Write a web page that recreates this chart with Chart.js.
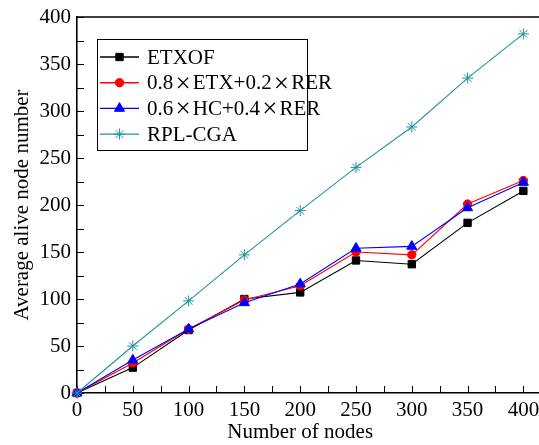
<!DOCTYPE html>
<html>
<head>
<meta charset="utf-8">
<script src="https://cdn.jsdelivr.net/npm/chart.js@4/dist/chart.umd.min.js"></script>
<style>
  html, body { margin: 0; padding: 0; background: #fff; overflow: hidden; }
  canvas { display: block; }
</style>
</head>
<body>
<canvas id="chart" width="539" height="445"></canvas>
<script>
// Number of nodes in the network (x axis)
const nodeCounts = [0, 50, 100, 150, 200, 250, 300, 350, 400];

// Average number of alive nodes for each routing metric
const etxof  = [0, 27, 67, 100, 107, 141, 137, 181, 215];
const etxRer = [0, 32, 68, 99, 114, 150, 147, 201, 226];
const hcRer  = [0, 35, 68, 96, 116, 154, 156, 197, 224];
const rplCga = [0, 50, 98, 147, 194, 240, 283, 335, 382];

const seriesNames = ['ETXOF', '0.8×ETX+0.2×RER', '0.6×HC+0.4×RER', 'RPL-CGA'];
const xTitle = 'Number of nodes';
const yTitle = 'Average alive node number';

const FONT = "'Liberation Serif', 'Times New Roman', serif";
const TEAL = '#1f9696';

const toPoints = vals => nodeCounts.map((n, i) => ({ x: n, y: vals[i] }));

const styles = [
  { color: '#000000', pointStyle: 'rect',     radius: 5.2, order: 4 },
  { color: '#ff0000', pointStyle: 'circle',   radius: 4.2, order: 3 },
  { color: '#0000ff', pointStyle: 'triangle', radius: 5.8, order: 2 },
  { color: TEAL,      pointStyle: 'star',     radius: 5.5, order: 1 }
];
const seriesValues = [etxof, etxRer, hcRer, rplCga];

const datasets = seriesValues.map((vals, i) => ({
  label: seriesNames[i],
  data: toPoints(vals),
  borderColor: styles[i].color,
  backgroundColor: styles[i].color,
  pointBackgroundColor: styles[i].color,
  pointBorderColor: styles[i].color,
  pointStyle: styles[i].pointStyle,
  pointRadius: styles[i].radius,
  pointBorderWidth: 1,
  borderWidth: 1.1,
  tension: 0,
  clip: false,
  order: styles[i].order
}));

// Draws a point marker; falls back to a simple dot if helpers are missing
function marker(ctx, style, radius, x, y) {
  if (Chart.helpers && Chart.helpers.drawPoint) {
    Chart.helpers.drawPoint(ctx, { pointStyle: style, radius: radius, borderWidth: 1, rotation: 0 }, x, y);
    return;
  }
  ctx.beginPath();
  ctx.arc(x, y, radius, 0, Math.PI * 2);
  ctx.fill();
}

// Label text where the multiplication sign takes a wide slot
function drawLabel(ctx, text, x, y) {
  const parts = text.split('×');
  let cx = x;
  parts.forEach((p, i) => {
    ctx.font = '21px ' + FONT;
    ctx.textAlign = 'left';
    ctx.fillText(p, cx, y);
    cx += ctx.measureText(p).width;
    if (i < parts.length - 1) {
      const adv = 19.5;
      ctx.font = '27px ' + FONT;
      ctx.textAlign = 'center';
      ctx.fillText('×', cx + adv / 2, y + 1);
      cx += adv;
    }
  });
}

const framePlugin = {
  id: 'frameAndTicks',
  beforeDatasetsDraw(chart) {
    const { ctx, chartArea: a, scales: { x, y } } = chart;
    ctx.save();
    ctx.strokeStyle = '#000';
    ctx.lineWidth = 1;
    // inward tick marks every 25 units
    for (let v = 0; v <= 425; v += 25) {
      const px = Math.round(x.getPixelForValue(v)) + 0.5;
      if (px > a.right) break;
      ctx.beginPath();
      ctx.moveTo(px, a.bottom);
      ctx.lineTo(px, a.bottom - 7);
      ctx.stroke();
    }
    for (let v = 0; v <= 400; v += 25) {
      const py = Math.round(y.getPixelForValue(v)) + 0.5;
      ctx.beginPath();
      ctx.moveTo(a.left, py);
      ctx.lineTo(a.left + 7, py);
      ctx.stroke();
    }
    // top edge of the frame
    ctx.lineWidth = 1.6;
    ctx.beginPath();
    ctx.moveTo(a.left, a.top);
    ctx.lineTo(a.right, a.top);
    ctx.stroke();
    ctx.restore();
  },
  afterDraw(chart) {
    const { ctx, scales: { x } } = chart;
    ctx.save();
    // x axis title, centred under the 0–400 range
    ctx.fillStyle = '#000';
    ctx.font = '21px ' + FONT;
    ctx.textAlign = 'center';
    ctx.textBaseline = 'middle';
    ctx.fillText(xTitle, x.getPixelForValue(200), 432);

    // legend box
    const L = 97, T = 39, R = 307, B = 150;
    ctx.fillStyle = '#fff';
    ctx.fillRect(L, T, R - L, B - T);
    ctx.strokeStyle = '#000';
    ctx.lineWidth = 1;
    ctx.strokeRect(L + 0.5, T + 0.5, R - L, B - T);

    chart.data.datasets.forEach((ds, i) => {
      const yy = 57 + i * 25.7;
      ctx.strokeStyle = ds.borderColor;
      ctx.fillStyle = ds.borderColor;
      ctx.lineWidth = 1.4;
      ctx.beginPath();
      ctx.moveTo(100, yy);
      ctx.lineTo(139, yy);
      ctx.stroke();
      ctx.lineWidth = 1;
      marker(ctx, ds.pointStyle, ds.pointRadius, 119.5, yy);
      ctx.fillStyle = '#000';
      ctx.textBaseline = 'middle';
      drawLabel(ctx, ds.label, 147, yy + 1);
    });
    ctx.restore();
  }
};

new Chart(document.getElementById('chart'), {
  type: 'line',
  data: { datasets },
  options: {
    responsive: false,
    animation: false,
    layout: { autoPadding: false, padding: { top: 17, right: 0, bottom: 0, left: 0 } },
    plugins: { legend: { display: false }, tooltip: { enabled: false } },
    scales: {
      x: {
        type: 'linear',
        min: 0,
        max: 414,
        grid: { display: false, drawTicks: false },
        border: { display: true, color: '#000', width: 1.6 },
        ticks: {
          stepSize: 50,
          includeBounds: false,
          padding: 5,
          maxRotation: 0,
          color: '#000',
          font: { family: FONT, size: 21 },
          callback: v => (v % 50 === 0 && v <= 400) ? String(v) : ''
        },
        afterFit: s => { s.height = 52; s.paddingRight = 0; s.paddingLeft = 0; }
      },
      y: {
        type: 'linear',
        min: 0,
        max: 400,
        grid: { display: false, drawTicks: false },
        border: { display: true, color: '#000', width: 1.6 },
        ticks: {
          stepSize: 50,
          padding: 6,
          color: '#000',
          font: { family: FONT, size: 21 }
        },
        title: {
          display: true,
          text: yTitle,
          color: '#000',
          font: { family: FONT, size: 21 },
          padding: { top: 10, bottom: 0 }
        },
        afterFit: s => { s.width = 77; s.paddingTop = 0; s.paddingBottom = 0; }
      }
    }
  },
  plugins: [framePlugin]
});
</script>
</body>
</html>
